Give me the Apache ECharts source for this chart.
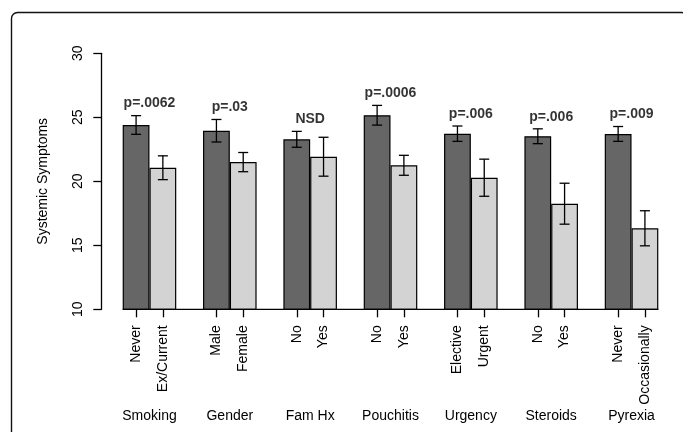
<!DOCTYPE html>
<html>
<head>
<meta charset="utf-8">
<script src="https://cdn.jsdelivr.net/npm/echarts@6/dist/echarts.min.js"></script>
<style>
html,body{margin:0;padding:0;background:#fff;}
#chart{width:683px;height:432px;}
</style>
</head>
<body>
<div id="chart"></div>
<script>
const groups = ['Smoking', 'Gender', 'Fam Hx', 'Pouchitis', 'Urgency', 'Steroids', 'Pyrexia'];
const levelA = ['Never', 'Male', 'No', 'No', 'Elective', 'No', 'Never'];
const levelB = ['Ex/Current', 'Female', 'Yes', 'Yes', 'Urgent', 'Yes', 'Occasionally'];
const meanA = [24.4, 23.95, 23.28, 25.16, 23.72, 23.52, 23.7];
const errA  = [0.73, 0.88, 0.62, 0.77, 0.6, 0.58, 0.58];
const meanB = [21.06, 21.5, 21.92, 21.25, 20.28, 18.25, 16.33];
const errB  = [0.93, 0.75, 1.52, 0.78, 1.45, 1.6, 1.37];
const pLabels = ['p=.0062', 'p=.03', 'NSD', 'p=.0006', 'p=.006', 'p=.006', 'p=.009'];
const yMin = 10, yMax = 30, yStep = 5;

const FONT = 'Liberation Sans, Arial, Helvetica, sans-serif';
const DARK = '#666666', LIGHT = '#d3d3d3';

// sub-axis positions (units): each group = 1 space + 2 bars
const subPos = [], subLab = {};
groups.forEach((g, i) => {
  const a = 1.5 + 3 * i, b = 2.5 + 3 * i;
  subPos.push(a, b);
  subLab[a] = levelA[i];
  subLab[b] = levelB[i];
});

const errData = [];
groups.forEach((g, i) => {
  errData.push([1.5 + 3 * i, meanA[i], errA[i]]);
  errData.push([2.5 + 3 * i, meanB[i], errB[i]]);
});

const chart = echarts.init(document.getElementById('chart'), null, {renderer: 'canvas'});
chart.setOption({
  animation: false,
  backgroundColor: '#fff',
  textStyle: {fontFamily: FONT},
  graphic: [{
    type: 'rect',
    shape: {x: 11.5, y: 12.5, width: 676, height: 440, r: 6},
    style: {fill: 'none', stroke: '#111', lineWidth: 1.4},
    silent: true
  }],
  grid: {left: 109.3, right: 11.3, top: 53.3, bottom: 122.7},
  xAxis: [{
    type: 'category',
    data: groups,
    axisLine: {show: false},
    axisTick: {show: false},
    axisLabel: {margin: 100, fontSize: 14, color: '#000', fontFamily: FONT}
  }, {
    type: 'value',
    min: 0.5, max: 21.5,
    position: 'bottom',
    splitLine: {show: false},
    axisLine: {show: false},
    axisTick: {show: true, length: 8, lineStyle: {color: '#000', width: 1.3}, customValues: subPos},
    axisLabel: {
      customValues: subPos,
      rotate: 90, margin: 16, fontSize: 14, color: '#000', fontFamily: FONT,
      formatter: v => subLab[v] || ''
    }
  }],
  yAxis: {
    type: 'value',
    min: yMin, max: yMax, interval: yStep,
    offset: 8,
    name: 'Systemic Symptoms',
    nameLocation: 'middle',
    nameGap: 51,
    nameRotate: 90,
    nameTextStyle: {fontSize: 14, color: '#000', fontFamily: FONT},
    splitLine: {show: false},
    axisLine: {show: true, lineStyle: {color: '#000', width: 1.3}},
    axisTick: {show: true, length: 8, lineStyle: {color: '#000', width: 1.3}},
    axisLabel: {rotate: 90, margin: 16, fontSize: 14, color: '#000', fontFamily: FONT}
  },
  series: [{
    type: 'bar',
    xAxisIndex: 0,
    data: meanA,
    barGap: '0%',
    barCategoryGap: '33.333%',
    itemStyle: {color: DARK, borderColor: '#000', borderWidth: 1.2}
  }, {
    type: 'bar',
    xAxisIndex: 0,
    data: meanB,
    itemStyle: {color: LIGHT, borderColor: '#000', borderWidth: 1.2}
  }, {
    type: 'custom',
    xAxisIndex: 1,
    data: [[1, 21]],
    renderItem: (params, api) => {
      const p0 = api.coord([api.value(0), yMin]);
      const p1 = api.coord([api.value(1), yMin]);
      return {type: 'line', shape: {x1: p0[0], y1: p0[1], x2: p1[0], y2: p1[1]},
              style: {stroke: '#000', lineWidth: 1.3}};
    },
    z: 5
  }, {
    type: 'custom',
    xAxisIndex: 1,
    data: errData,
    renderItem: (params, api) => {
      const x = api.value(0), m = api.value(1), e = api.value(2);
      const top = api.coord([x, m + e]);
      const bot = api.coord([x, m - e]);
      const hw = 5;
      const st = {stroke: '#000', lineWidth: 1.3};
      return {type: 'group', children: [
        {type: 'line', shape: {x1: top[0], y1: top[1], x2: bot[0], y2: bot[1]}, style: st},
        {type: 'line', shape: {x1: top[0] - hw, y1: top[1], x2: top[0] + hw, y2: top[1]}, style: st},
        {type: 'line', shape: {x1: bot[0] - hw, y1: bot[1], x2: bot[0] + hw, y2: bot[1]}, style: st}
      ]};
    },
    z: 6
  }, {
    type: 'scatter',
    xAxisIndex: 0,
    symbolSize: 0,
    data: groups.map((g, i) => ({value: [g, meanA[i] + errA[i]], name: pLabels[i]})),
    label: {
      show: true, position: 'top', distance: 5,
      formatter: p => p.name,
      fontSize: 14, fontWeight: 'bold', color: '#000', fontFamily: FONT
    },
    z: 7
  }]
});
</script>
</body>
</html>
